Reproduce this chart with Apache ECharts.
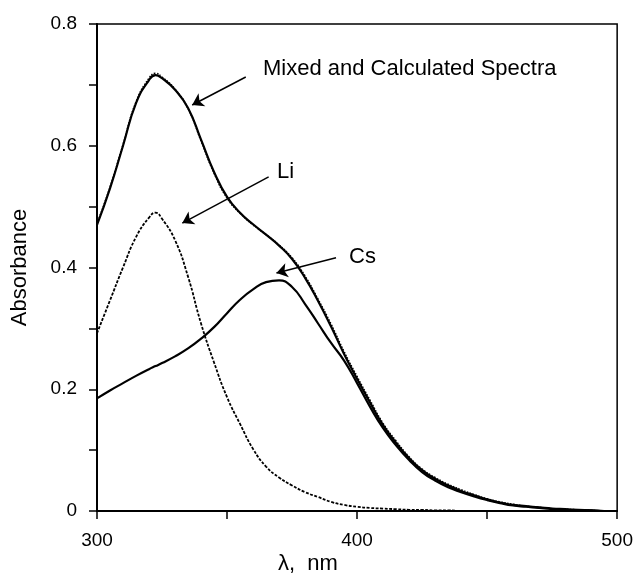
<!DOCTYPE html>
<html>
<head>
<meta charset="utf-8">
<script src="https://cdn.jsdelivr.net/npm/echarts@6/dist/echarts.min.js"></script>
<style>
  html, body { margin: 0; padding: 0; background: #fff; }
  #chart { width: 636px; height: 577px; }
</style>
</head>
<body>
<div id="chart"></div>
<script>
// wavelength grid (nm)
const wavelengths = [300, 305, 310, 315, 320, 322.5, 325, 330, 335, 340, 345, 350, 355, 360, 365, 370, 375, 380, 385, 390, 395, 400,
  405, 410, 415, 420, 425, 430, 435, 440, 445, 450, 455, 460, 465, 470, 475, 480, 485, 490, 495, 500];

// absorbance
const mixed = [0.470, 0.530, 0.600, 0.670, 0.708, 0.716, 0.711, 0.692, 0.662, 0.610, 0.557, 0.516, 0.490, 0.471, 0.454, 0.436, 0.414, 0.383, 0.345, 0.303, 0.258, 0.217,
  0.178, 0.141, 0.112, 0.087, 0.067, 0.053, 0.042, 0.033, 0.026, 0.019, 0.014, 0.010, 0.008, 0.006, 0.004, 0.003, 0.002, 0.001, 0.000, 0.000];
const calculated = [0.472, 0.532, 0.602, 0.672, 0.711, 0.719, 0.713, 0.693, 0.661, 0.608, 0.555, 0.514, 0.489, 0.470, 0.454, 0.437, 0.416, 0.386, 0.348, 0.307, 0.262, 0.221,
  0.182, 0.144, 0.115, 0.089, 0.069, 0.055, 0.044, 0.035, 0.027, 0.020, 0.015, 0.011, 0.008, 0.006, 0.004, 0.003, 0.002, 0.001, 0.000, 0.000];
const li = [0.292, 0.346, 0.400, 0.450, 0.482, 0.490, 0.480, 0.445, 0.385, 0.308, 0.244, 0.187, 0.143, 0.102, 0.073, 0.055, 0.042, 0.031, 0.023, 0.015, 0.010, 0.007,
  0.005, 0.004, 0.003, 0.002, 0.002, 0.001, 0.001, 0.000, 0.000, 0.000, 0.000, 0.000, 0.000, 0.000, 0.000, 0.000, 0.000, 0.000, 0.000, 0.000];
const cs = [0.185, 0.198, 0.210, 0.222, 0.233, 0.238, 0.243, 0.254, 0.267, 0.283, 0.302, 0.325, 0.347, 0.364, 0.376, 0.379, 0.368, 0.340, 0.308, 0.276, 0.247, 0.210,
  0.171, 0.136, 0.108, 0.084, 0.064, 0.050, 0.039, 0.031, 0.024, 0.018, 0.013, 0.009, 0.007, 0.005, 0.003, 0.002, 0.001, 0.001, 0.000, 0.000];

const xTickLabels = [300, 400, 500];
const yTickLabels = ["0", "0.2", "0.4", "0.6", "0.8"];

const pairs = (ys) => wavelengths.map((x, i) => [x, ys[i]]);
const ink = "#000";
const font = "Liberation Sans";

const chart = echarts.init(document.getElementById("chart"));

const lineBase = {
  type: "line",
  showSymbol: false,
  smooth: 0.5,
  silent: true,
  animation: false,
};

const option = {
  animation: false,
  backgroundColor: "#fff",
  grid: {
    left: 97, right: 14, top: 24, bottom: 66,
    show: true, borderColor: ink, borderWidth: 1.5,
  },
  xAxis: {
    type: "value",
    min: 300, max: 500, interval: 50,
    axisLine: { show: true, lineStyle: { color: ink, width: 2 } },
    axisTick: { show: true, length: 8, lineStyle: { color: ink, width: 1.5 } },
    axisLabel: {
      margin: 20,
      color: ink, fontSize: 19, fontFamily: font,
      formatter: (v) => (xTickLabels.includes(v) ? String(v) : ""),
    },
    splitLine: { show: false },
  },
  yAxis: {
    type: "value",
    min: 0, max: 0.8, interval: 0.1,
    axisLine: { show: true, lineStyle: { color: ink, width: 2 } },
    axisTick: { show: true, length: 8, lineStyle: { color: ink, width: 1.5 } },
    axisLabel: {
      margin: 20,
      color: ink, fontSize: 19, fontFamily: font,
      formatter: (v) => {
        const k = Math.round(v * 10);
        return k % 2 === 0 ? yTickLabels[k / 2] : "";
      },
    },
    splitLine: { show: false },
    name: "Absorbance",
    nameLocation: "middle",
    nameGap: 66,
    nameTextStyle: { color: ink, fontSize: 22, fontFamily: font },
  },
  series: [
    Object.assign({}, lineBase, {
      name: "Cs",
      data: pairs(cs),
      lineStyle: { color: ink, width: 2.2 },
    }),
    Object.assign({}, lineBase, {
      name: "Li",
      data: pairs(li),
      lineStyle: { color: ink, width: 1.8, type: [3, 1.5] },
    }),
    Object.assign({}, lineBase, {
      name: "Mixed",
      data: pairs(mixed),
      lineStyle: { color: ink, width: 2.2 },
      markLine: {
        silent: true,
        symbol: ["none", "arrow"],
        symbolSize: 11,
        label: { show: false },
        lineStyle: { color: ink, width: 1.5, type: "solid" },
        data: [
          [{ coord: [357.2, 0.713] }, { coord: [336.6, 0.667] }],
          [{ coord: [366.0, 0.549] }, { coord: [332.8, 0.473] }],
          [{ coord: [391.9, 0.416] }, { coord: [369.0, 0.391] }],
        ],
      },
    }),
    Object.assign({}, lineBase, {
      name: "Calculated",
      data: pairs(calculated),
      lineStyle: { color: ink, width: 1.5, type: "dotted" },
    }),
  ],
  graphic: [
    { type: "text", left: 263, top: 58, silent: true,
      style: { text: "Mixed and Calculated Spectra", fill: ink, font: "22px " + font } },
    { type: "text", left: 277, top: 161, silent: true,
      style: { text: "Li", fill: ink, font: "22px " + font } },
    { type: "text", left: 349, top: 246, silent: true,
      style: { text: "Cs", fill: ink, font: "22px " + font } },
    { type: "text", left: 278, top: 553, silent: true,
      style: { text: "λ,  nm", fill: ink, font: "22px " + font } },
  ],
};

chart.setOption(option);
</script>
</body>
</html>
